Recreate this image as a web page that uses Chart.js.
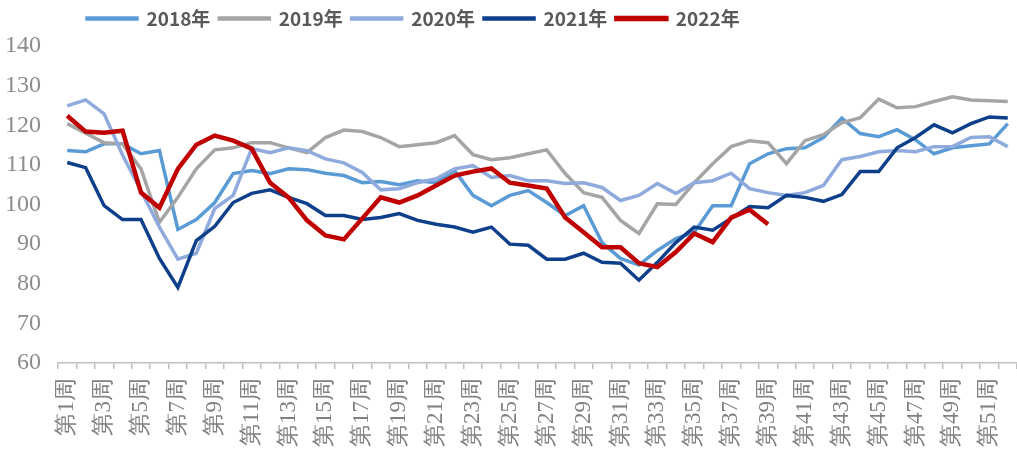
<!DOCTYPE html>
<html>
<head>
<meta charset="utf-8">
<script src="https://cdn.jsdelivr.net/npm/chart.js@4.4.0/dist/chart.umd.min.js"></script>
<style>
  html, body { margin: 0; padding: 0; background: #fff; }
  #wrap { width: 1017px; height: 454px; }
</style>
</head>
<body>
<div id="wrap"><canvas id="weekChart" width="1017" height="454"></canvas></div>
<script>
const weeks = [
    "第1周", "第2周", "第3周", "第4周", "第5周", "第6周", "第7周", "第8周", "第9周", "第10周",
    "第11周", "第12周", "第13周", "第14周", "第15周", "第16周", "第17周", "第18周", "第19周", "第20周",
    "第21周", "第22周", "第23周", "第24周", "第25周", "第26周", "第27周", "第28周", "第29周", "第30周",
    "第31周", "第32周", "第33周", "第34周", "第35周", "第36周", "第37周", "第38周", "第39周", "第40周",
    "第41周", "第42周", "第43周", "第44周", "第45周", "第46周", "第47周", "第48周", "第49周", "第50周",
    "第51周", "第52周"
];

const y2018 = [113.6, 113.3, 115.3, 115.3, 112.8, 113.6, 93.7, 96.2, 100.5, 107.8,
    108.6, 107.8, 109.0, 108.8, 107.9, 107.3, 105.5, 105.8, 105.0, 106.0,
    105.5, 108.6, 102.3, 99.7, 102.3, 103.5, 100.5, 97.2, 99.7, 90.4,
    86.4, 84.7, 88.4, 91.4, 93.0, 99.7, 99.7, 110.3, 112.8, 114.1,
    114.3, 116.9, 121.8, 117.9, 117.1, 118.9, 116.3, 112.8, 114.3, 114.8,
    115.3, 120.4];

const y2019 = [120.4, 118.0, 115.6, 115.3, 109.0, 95.5, 101.8, 109.0, 113.8, 114.3,
    115.6, 115.6, 114.3, 113.1, 116.9, 118.8, 118.4, 116.9, 114.6, 115.1,
    115.6, 117.4, 112.6, 111.3, 111.8, 112.8, 113.8, 107.8, 103.0, 101.8,
    96.0, 92.7, 100.2, 100.0, 105.5, 110.3, 114.6, 116.1, 115.6, 110.3,
    116.1, 117.6, 120.6, 121.9, 126.6, 124.4, 124.7, 126.0, 127.2, 126.4,
    126.2, 126.0];

const y2020 = [124.9, 126.4, 122.9, 112.5, 103.5, 94.3, 86.2, 87.7, 99.0, 102.3,
    114.1, 113.1, 114.3, 113.6, 111.5, 110.5, 108.1, 103.7, 104.0, 105.5,
    106.5, 109.0, 109.8, 106.8, 107.3, 106.0, 106.0, 105.3, 105.5, 104.3,
    101.0, 102.3, 105.3, 102.8, 105.5, 106.0, 107.9, 104.0, 103.0, 102.3,
    103.0, 104.8, 111.3, 112.1, 113.3, 113.6, 113.3, 114.6, 114.6, 116.9,
    117.1, 114.6];

const y2021 = [110.6, 109.3, 99.7, 96.2, 96.2, 86.4, 79.1, 90.9, 94.5, 100.5,
    102.8, 103.7, 101.8, 100.2, 97.2, 97.2, 96.2, 96.7, 97.7, 96.0,
    95.0, 94.3, 93.0, 94.3, 90.0, 89.7, 86.2, 86.2, 87.7, 85.4,
    85.2, 80.9, 85.4, 90.4, 94.3, 93.5, 96.5, 99.5, 99.2, 102.3,
    101.8, 100.8, 102.5, 108.3, 108.3, 114.3, 116.9, 120.1, 118.1, 120.4,
    122.1, 121.8];

// 2022年 only runs to week 39
const y2022 = [122.4, 118.4, 118.1, 118.6, 103.0, 99.2, 109.0, 115.1, 117.4, 116.1,
    114.1, 105.5, 101.8, 96.0, 92.2, 91.2, 96.5, 101.8, 100.5, 102.3,
    104.8, 107.3, 108.3, 109.1, 105.5, 104.8, 104.0, 96.7, 93.0, 89.2,
    89.2, 85.2, 84.2, 88.0, 92.7, 90.5, 96.7, 98.7, 95.0];

const yMin = 60, yMax = 140, yStep = 10;

function line(label, data, color, width, order) {
    return {
        label,
        data,
        borderColor: color,
        backgroundColor: color,
        borderWidth: width,
        pointRadius: 0,
        pointHoverRadius: 0,
        tension: 0,
        fill: false,
        order
    };
}

// legend sits left of centre and leaves a gap above the plot
const legendShift = {
    id: "legendShift",
    beforeInit(chart) {
        const lg = chart.legend;
        if (!lg || lg._patched) return;
        const fit = lg.fit;
        lg.fit = function () {
            fit.call(this);
            this.height += 8;
        };
        lg._patched = true;
    },
    beforeDraw(chart) {
        const lg = chart.legend;
        if (!lg) return;
        const w = lg.right - lg.left;
        lg.left = 78;
        lg.right = 78 + w;
    }
};

const serif = '"Liberation Serif", "Times New Roman", Times, serif';

function drawChart() {
    new Chart(document.getElementById("weekChart"), {
        type: "line",
        data: {
            labels: weeks,
            datasets: [
                line("2018年", y2018, "#5B9BD5", 3.5, 4),
                line("2019年", y2019, "#A5A5A5", 3.5, 3),
                line("2020年", y2020, "#8FAADC", 3.5, 2),
                line("2021年", y2021, "#0E3F8A", 3.5, 1),
                line("2022年", y2022, "#C00000", 4.5, 0)
            ]
        },
        options: {
            responsive: false,
            devicePixelRatio: 1,
            animation: false,
            layout: { padding: 0 },
            plugins: {
                tooltip: { enabled: false },
                legend: {
                    position: "top",
                    align: "start",
                    labels: {
                        boxWidth: 50,
                        boxHeight: 1,
                        padding: 9,
                        color: "#595959",
                        font: { family: '"Noto Sans CJK SC", "Noto Sans", sans-serif', size: 19, weight: "bold" },
                        sort: (a, b) => a.datasetIndex - b.datasetIndex
                    }
                }
            },
            scales: {
                x: {
                    offset: true,
                    grid: {
                        offset: true,
                        drawOnChartArea: false,
                        drawTicks: true,
                        tickLength: 6,
                        color: "#BFBFBF",
                        lineWidth: 1.5
                    },
                    border: { color: "#BFBFBF", width: 1.5 },
                    ticks: {
                        autoSkip: false,
                        maxRotation: 90,
                        minRotation: 90,
                        padding: 9,
                        color: "#808080",
                        font: { family: serif, size: 23 },
                        callback: (v, i) => (i % 2 === 0 ? weeks[i] : "")
                    },
                    afterFit(scale) {
                        scale.height = 91;
                        // plot runs right up to the canvas edge
                        scale.paddingLeft = 0;
                        scale.paddingRight = 0;
                    }
                },
                y: {
                    min: yMin,
                    max: yMax,
                    grid: { display: false },
                    border: { display: false },
                    ticks: {
                        stepSize: yStep,
                        padding: 9,
                        color: "#8C8C8C",
                        font: { family: serif, size: 24 }
                    },
                    afterFit(scale) { scale.width = 58; }
                }
            }
        },
        plugins: [legendShift]
    });
}

// make sure the fonts are ready before the canvas text is drawn
if (document.fonts && document.fonts.load) {
    Promise.all([
        document.fonts.load('24px "Liberation Serif"'),
        document.fonts.load('19px "Noto Sans CJK SC"')
    ]).then(drawChart, drawChart);
} else {
    drawChart();
}
</script>
</body>
</html>
